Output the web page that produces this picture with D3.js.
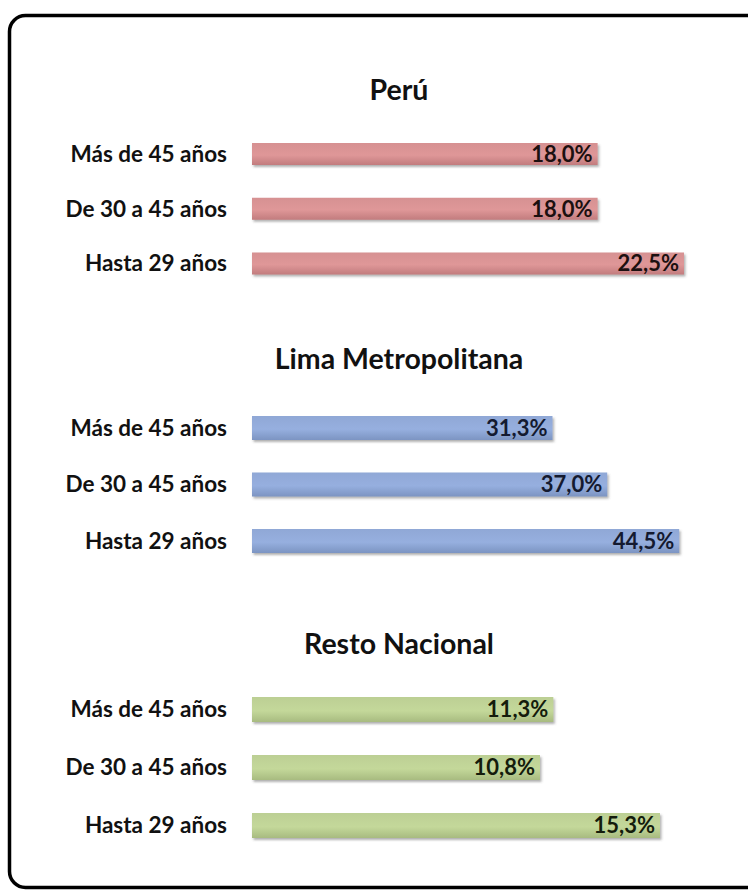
<!DOCTYPE html>
<html>
<head>
<meta charset="utf-8">
<script src="https://cdn.jsdelivr.net/npm/d3@7"></script>
<style>
  html, body { margin: 0; padding: 0; background: #ffffff; }
  svg { display: block; }
</style>
</head>
<body>
<svg id="chart" width="748" height="890"></svg>
<script>
// ---------------- DATA ----------------
const categories = ["Más de 45 años", "De 30 a 45 años", "Hasta 29 años"];
const panelTitles = ["Perú", "Lima Metropolitana", "Resto Nacional"];
const peruValues = [18.0, 18.0, 22.5];
const limaValues = [31.3, 37.0, 44.5];
const restoValues = [11.3, 10.8, 15.3];
const axisMaxima = [25, 50, 18];

// ---------------- LAYOUT / STYLE ----------------
const W = 748, H = 890;
const font = "Lato, 'Open Sans', 'DejaVu Sans', sans-serif";
const barX0 = 252, barX1 = 732;
const labelRight = 227;
const panels = [
  { title: panelTitles[0], values: peruValues, max: axisMaxima[0], titleY: 100, top: 143, step: 54.75, bw: 22,
    fill: "#d69192", dark: "#c27c7e", text: "#1c1010" },
  { title: panelTitles[1], values: limaValues, max: axisMaxima[1], titleY: 369, top: 416, step: 56.5, bw: 24,
    fill: "#90a8d6", dark: "#7c94c2", text: "#141a30" },
  { title: panelTitles[2], values: restoValues, max: axisMaxima[2], titleY: 654, top: 697, step: 58, bw: 25,
    fill: "#bccf94", dark: "#a8bb80", text: "#141c0c" }
];

const svg = d3.select("#chart");
const defs = svg.append("defs");

// drop shadow for bars
const f = defs.append("filter").attr("id", "shadow").attr("x", "-5%").attr("y", "-30%").attr("width", "110%").attr("height", "180%");
f.append("feDropShadow").attr("dx", 1.5).attr("dy", 2).attr("stdDeviation", 1.3)
  .attr("flood-color", "#555").attr("flood-opacity", 0.45);

svg.append("rect").attr("width", W).attr("height", H).attr("fill", "#ffffff");

// frame
svg.append("rect")
  .attr("x", 9.5).attr("y", 15.5)
  .attr("width", 760).attr("height", 872)
  .attr("rx", 16).attr("ry", 16)
  .attr("fill", "#ffffff")
  .attr("stroke", "#000").attr("stroke-width", 3.5);

const fmt = v => d3.format(".1f")(v).replace(".", ",") + "%";

panels.forEach((p, i) => {
  const grad = defs.append("linearGradient").attr("id", "g" + i)
    .attr("x1", 0).attr("y1", 0).attr("x2", 0).attr("y2", 1);
  grad.append("stop").attr("offset", "0%").attr("stop-color", p.fill);
  grad.append("stop").attr("offset", "55%").attr("stop-color", d3.color(p.fill).brighter(0.12));
  grad.append("stop").attr("offset", "100%").attr("stop-color", p.dark);

  const x = d3.scaleLinear().domain([0, p.max]).range([barX0, barX1]);
  const pi = 1 - p.bw / p.step;
  const y = d3.scaleBand().domain(categories)
    .range([p.top, p.top + p.step * (categories.length - pi)])
    .paddingInner(pi).paddingOuter(0);

  const g = svg.append("g");

  g.append("text")
    .attr("x", 399).attr("y", p.titleY)
    .attr("text-anchor", "middle")
    .attr("font-family", font).attr("font-weight", 700)
    .attr("font-size", 28.5).attr("fill", "#111")
    .text(p.title);

  const rows = categories.map((c, j) => ({ c, v: p.values[j] }));

  g.selectAll("rect.bar").data(rows).join("rect")
    .attr("class", "bar")
    .attr("x", x(0))
    .attr("y", d => y(d.c))
    .attr("width", d => x(d.v) - x(0))
    .attr("height", y.bandwidth())
    .attr("fill", `url(#g${i})`)
    .attr("filter", "url(#shadow)");

  g.selectAll("text.cat").data(rows).join("text")
    .attr("class", "cat")
    .attr("x", labelRight)
    .attr("y", d => y(d.c) + y.bandwidth() / 2 + 7.8)
    .attr("text-anchor", "end")
    .attr("font-family", font).attr("font-weight", 700)
    .attr("font-size", 22.5).attr("fill", "#111")
    .text(d => d.c);

  g.selectAll("text.val").data(rows).join("text")
    .attr("class", "val")
    .attr("x", d => x(d.v) - 5)
    .attr("y", d => y(d.c) + y.bandwidth() / 2 + 7.8)
    .attr("text-anchor", "end")
    .attr("font-family", font).attr("font-weight", 700)
    .attr("font-size", 22).attr("fill", p.text)
    .text(d => fmt(d.v));
});
</script>
</body>
</html>
